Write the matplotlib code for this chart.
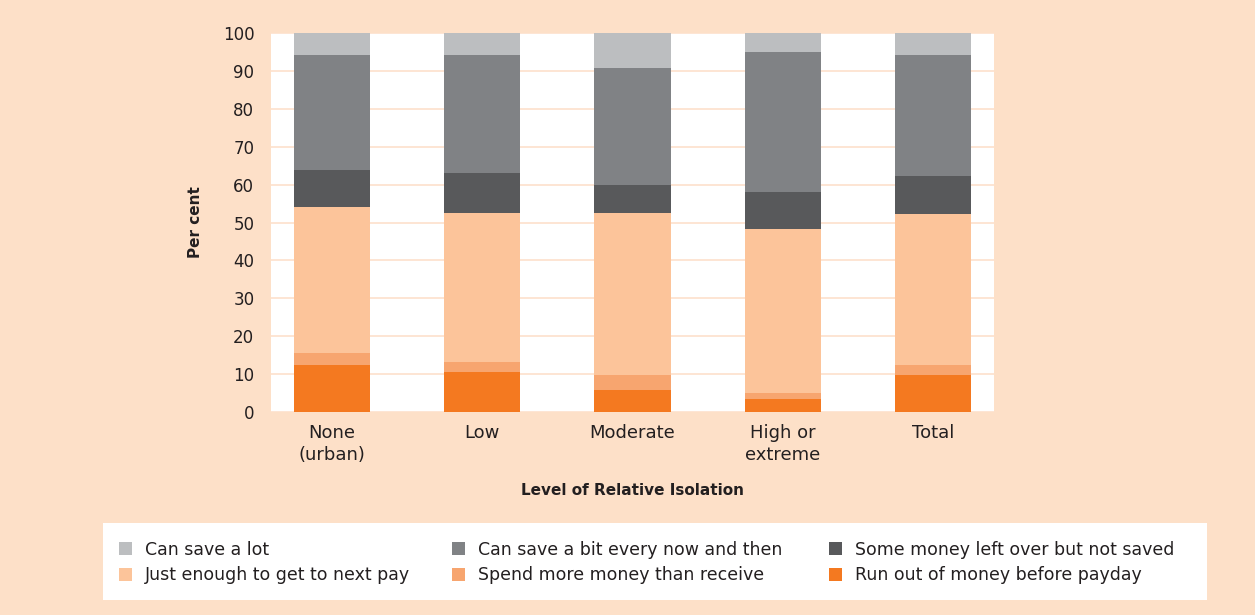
import matplotlib.pyplot as plt
import matplotlib.patches as mpatches
import numpy as np

categories = ["None\n(urban)", "Low", "Moderate", "High or\nextreme", "Total"]

# stacked from bottom to top, per cent
run_out = [12.3, 10.5, 5.7, 3.4, 9.7]
spend_more = [3.2, 2.6, 4.0, 1.5, 2.6]
just_enough = [38.6, 39.4, 42.8, 43.4, 39.9]
left_over = [9.8, 10.7, 7.4, 9.8, 10.1]
save_bit = [30.4, 31.1, 31.0, 36.9, 32.0]
save_lot = [5.7, 5.7, 9.1, 5.0, 5.7]

series = [
    ("Run out of money before payday", run_out, "#F47920"),
    ("Spend more money than receive", spend_more, "#F7A56F"),
    ("Just enough to get to next pay", just_enough, "#FCC49A"),
    ("Some money left over but not saved", left_over, "#58595B"),
    ("Can save a bit every now and then", save_bit, "#808285"),
    ("Can save a lot", save_lot, "#BCBEC0"),
]

bg = "#FDE0C8"
txt = "#231F20"

fig = plt.figure(figsize=(12.55, 6.15), dpi=100, facecolor=bg)
ax = fig.add_axes([271/1255, 1 - 411.7/615, 723/1255, 378.4/615])
ax.set_facecolor("white")

x = np.arange(len(categories))
bottom = np.zeros(len(categories))
bars = {}
for name, vals, col in series:
    bars[name] = ax.bar(x, vals, 0.507, bottom=bottom, color=col, zorder=3)
    bottom += np.array(vals)

ax.set_xlim(-0.407, 4.407)
ax.set_ylim(0, 100)
ax.set_yticks(range(0, 101, 10))
ax.yaxis.grid(True, color="#FDE5D3", linewidth=1.4, zorder=0)
ax.set_axisbelow(True)
for s in ax.spines.values():
    s.set_visible(False)
ax.tick_params(length=0, colors=txt)
ax.tick_params(axis="y", pad=12, labelsize=12)
ax.tick_params(axis="x", pad=9, labelsize=13)
ax.set_xticks(x)
ax.set_xticklabels(categories, linespacing=1.25)

ax.set_ylabel("Per cent", fontsize=11, fontweight="bold", color=txt, labelpad=14)
ax.set_xlabel("Level of Relative Isolation", fontsize=11, fontweight="bold",
              color=txt, labelpad=14)

# white legend box
fig.patches.append(mpatches.Rectangle((103/1255, 1 - 600/615), 1104/1255, 77/615,
                                      transform=fig.transFigure, facecolor="white",
                                      edgecolor="none", zorder=0))

columns = [
    (["Can save a lot", "Just enough to get to next pay"], 119),
    (["Can save a bit every now and then", "Spend more money than receive"], 452),
    (["Some money left over but not saved", "Run out of money before payday"], 829),
]
for names, xpos in columns:
    leg = fig.legend([bars[n] for n in names], names, loc="center left",
                     bbox_to_anchor=(xpos/1255, 1 - 562.5/615), fontsize=12.5,
                     frameon=False, handlelength=0.75, handleheight=0.75,
                     handletextpad=0.75, labelspacing=0.45, borderaxespad=0,
                     borderpad=0)
    for t in leg.get_texts():
        t.set_color(txt)

fig.savefig("out.png", dpi=100, facecolor=bg)
